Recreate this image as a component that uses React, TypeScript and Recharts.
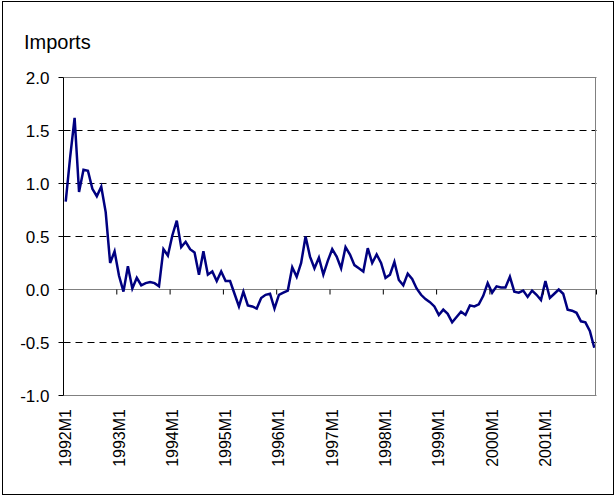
import React from 'react';
import {
  LineChart,
  Line,
  XAxis,
  YAxis,
  CartesianGrid,
  ReferenceLine,
} from 'recharts';

const YEARS = [1992, 1993, 1994, 1995, 1996, 1997, 1998, 1999, 2000, 2001];

// monthly categories, 1992M1 .. 2001M12
const MONTHS = YEARS.flatMap((y) => Array.from({ length: 12 }, (_, m) => `${y}M${m + 1}`));

const IMPORTS = [
  0.83, 1.25, 1.62, 0.92, 1.13, 1.12, 0.95, 0.88, 0.97, 0.73, 0.25, 0.36,
  0.13, -0.02, 0.22, 0.01, 0.11, 0.04, 0.06, 0.07, 0.06, 0.03, 0.38, 0.32,
  0.51, 0.65, 0.4, 0.45, 0.38, 0.35, 0.14, 0.36, 0.14, 0.17, 0.08, 0.17,
  0.08, 0.08, -0.04, -0.16, -0.02, -0.15, -0.16, -0.18, -0.08, -0.05, -0.04, -0.18,
  -0.05, -0.03, -0.01, 0.21, 0.12, 0.25, 0.5, 0.31, 0.2, 0.3, 0.14, 0.27,
  0.38, 0.31, 0.2, 0.4, 0.33, 0.23, 0.2, 0.17, 0.39, 0.25, 0.33, 0.25,
  0.11, 0.14, 0.26, 0.09, 0.04, 0.15, 0.1, 0.01, -0.05, -0.09, -0.12, -0.16,
  -0.24, -0.19, -0.23, -0.31, -0.26, -0.21, -0.24, -0.15, -0.16, -0.14, -0.06, 0.06,
  -0.03, 0.03, 0.02, 0.02, 0.12, -0.02, -0.03, -0.01, -0.07, -0.01, -0.05, -0.1,
  0.08, -0.08, -0.04, 0.0, -0.04, -0.19, -0.2, -0.22, -0.3, -0.31, -0.39, -0.55,
];

const X_TICKS = YEARS.map((y) => `${y}M1`);
const Y_TICKS = [-1, -0.5, 0, 0.5, 1, 1.5, 2];
const Y_GRID = [-0.5, 0.5, 1, 1.5];

const data = MONTHS.map((month, i) => ({ month, value: IMPORTS[i] }));

const FONT = '"Liberation Sans", Arial, sans-serif';
const W = 615;
const H = 496;
const PLOT_LEFT = 63.5;
const PLOT_TOP = 77.5;
const PLOT_W = 533;
const PLOT_H = 318;
const Y_MIN = -1;
const Y_MAX = 2;
const STEP = PLOT_W / MONTHS.length;
const ZERO_Y = PLOT_TOP + ((Y_MAX - 0) / (Y_MAX - Y_MIN)) * PLOT_H;
const LABEL_TOP = PLOT_TOP + PLOT_H + 13.5;

const XTick = (props: any) => {
  const { x, payload } = props;
  const edge = x - STEP / 2;
  const marks = [edge];
  if (payload.value === X_TICKS[X_TICKS.length - 1]) marks.push(edge + 12 * STEP);
  return (
    <g>
      {marks.map((m, i) => (
        <line key={i} x1={m} x2={m} y1={ZERO_Y} y2={ZERO_Y + 5} stroke="#000" />
      ))}
      <text
        transform={`translate(${x},${LABEL_TOP}) rotate(-90)`}
        textAnchor="end"
        dominantBaseline="central"
        fontSize={16}
        fontFamily={FONT}
        fill="#000"
      >
        {payload.value}
      </text>
    </g>
  );
};

export default function App() {
  return (
    <div style={{ position: 'absolute', left: 0, top: 0, width: W, height: H, background: '#fff' }}>
      <div
        style={{
          position: 'absolute',
          left: 2,
          top: 1,
          width: 610,
          height: 492,
          border: '1px solid #000',
        }}
      />
      <div
        style={{
          position: 'absolute',
          left: 24,
          top: 31,
          fontFamily: FONT,
          fontSize: 20,
          lineHeight: 'normal',
          color: '#000',
        }}
      >
        Imports
      </div>
      <div style={{ position: 'absolute', left: 0, top: 0 }}>
        <LineChart
          width={W}
          height={H}
          data={data}
          margin={{ top: PLOT_TOP, right: W - PLOT_LEFT - PLOT_W, bottom: 0, left: 0 }}
        >
          <CartesianGrid
            vertical={false}
            horizontalValues={Y_GRID}
            stroke="#000"
            strokeDasharray="7 5"
          />
          <ReferenceLine y={0} stroke="#808080" strokeWidth={1} />
          <ReferenceLine y={Y_MAX} stroke="#808080" strokeWidth={1} />
          <ReferenceLine y={Y_MIN} stroke="#808080" strokeWidth={1} />
          <XAxis
            dataKey="month"
            ticks={X_TICKS}
            interval={0}
            axisLine={false}
            tickLine={false}
            tick={<XTick />}
            height={H - PLOT_TOP - PLOT_H}
            padding={{ left: STEP / 2, right: STEP / 2 }}
          />
          <YAxis
            domain={[Y_MIN, Y_MAX]}
            ticks={Y_TICKS}
            width={PLOT_LEFT}
            tickFormatter={(v: number) => v.toFixed(1)}
            axisLine={{ stroke: '#000' }}
            tickLine={{ stroke: '#000' }}
            tickSize={5}
            tickMargin={9}
            tick={{ fill: '#000', fontSize: 17, fontFamily: FONT }}
          />
          <Line
            type="linear"
            dataKey="value"
            stroke="#000080"
            strokeWidth={2.5}
            dot={false}
            isAnimationActive={false}
          />
        </LineChart>
      </div>
      {/* right edge of the gray plot frame */}
      <div
        style={{
          position: 'absolute',
          left: PLOT_LEFT + PLOT_W - 1.5,
          top: PLOT_TOP - 0.5,
          width: 0,
          height: PLOT_H,
          borderLeft: '1px solid #808080',
        }}
      />
    </div>
  );
}
